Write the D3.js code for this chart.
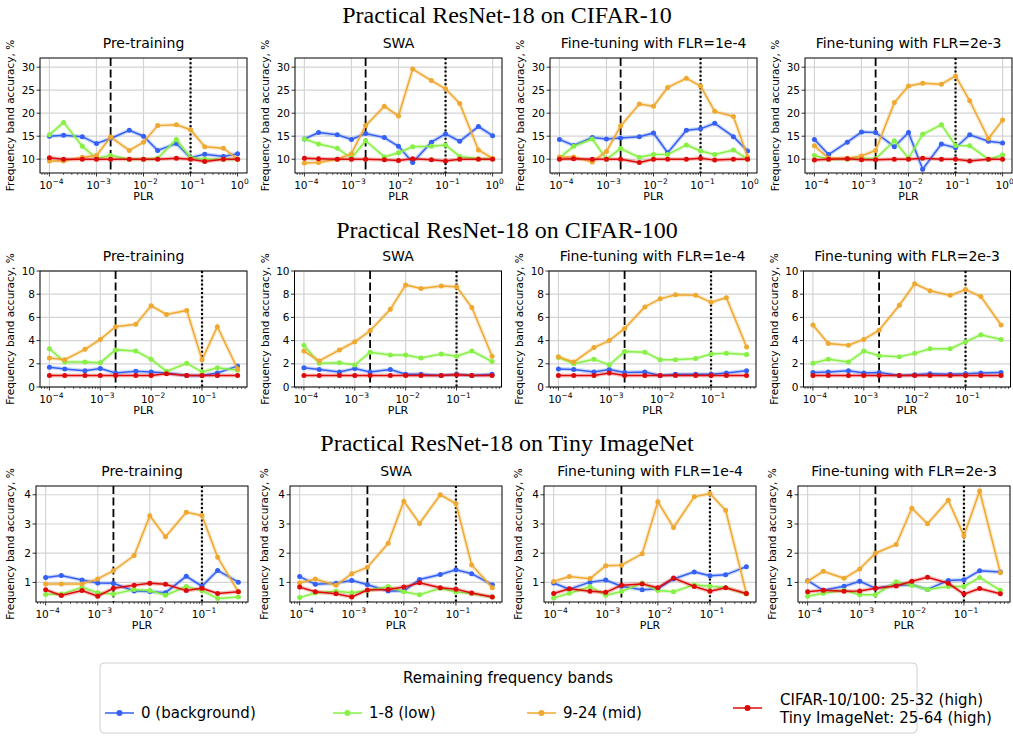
<!DOCTYPE html>
<html>
<head>
<meta charset="utf-8">
<script src="https://cdn.jsdelivr.net/npm/d3@7"></script>
<style>
  body { margin: 0; background: #fff; }
  text { font-family: "DejaVu Sans", sans-serif; fill: #000; }
</style>
</head>
<body>
<svg id="chart" width="1013" height="738"></svg>
<script>
// ---- data ----
const xC10 = [1e-4, 2e-4, 5e-4, 1e-3, 2e-3, 5e-3, 1e-2, 2e-2, 5e-2, 1e-1, 2e-1, 5e-1, 1];
const xC100 = [1e-4, 2e-4, 5e-4, 1e-3, 2e-3, 5e-3, 1e-2, 2e-2, 5e-2, 1e-1, 2e-1, 5e-1];
const xTiny = [1e-4, 2e-4, 5e-4, 1e-3, 2e-3, 5e-3, 1e-2, 2e-2, 5e-2, 1e-1, 2e-1, 5e-1];

const rowTitles = ["Practical ResNet-18 on CIFAR-10", "Practical ResNet-18 on CIFAR-100", "Practical ResNet-18 on Tiny ImageNet"];
const panelTitles = ["Pre-training", "SWA", "Fine-tuning with FLR=1e-4", "Fine-tuning with FLR=2e-3"];
const seriesNames = ["0 (background)", "1-8 (low)", "9-24 (mid)", "CIFAR-10/100: 25-32 (high)|Tiny ImageNet: 25-64 (high)"];
const seriesColors = ["#3460f4", "#86f045", "#efa930", "#dd0a0a"];

const yTicksC10 = [10, 15, 20, 25, 30];
const yTicksC100 = [0, 2, 4, 6, 8, 10];
const yTicksTiny = [1, 2, 3, 4];

// each panel: [background, low, mid, high]
const c10Pre = [
  [15.0, 15.2, 14.9, 13.4, 14.5, 16.3, 15.0, 11.9, 13.4, 10.3, 11.1, 10.6, 11.2],
  [15.3, 18.0, 12.8, 10.2, 10.8, 10.0, 10.0, 10.2, 14.3, 10.3, 10.0, 10.0, 10.0],
  [9.6, 9.6, 10.4, 10.8, 14.8, 11.9, 13.7, 17.3, 17.5, 16.4, 12.7, 12.4, 10.0],
  [10.3, 10.0, 10.0, 10.0, 10.0, 10.0, 10.0, 10.0, 10.2, 10.0, 9.5, 10.0, 10.0]
];
const c10Swa = [
  [14.4, 15.8, 15.3, 14.3, 15.6, 14.7, 12.8, 9.3, 13.7, 15.5, 13.9, 17.1, 15.1],
  [14.4, 13.3, 12.4, 10.2, 14.0, 10.5, 11.4, 12.7, 12.8, 13.1, 10.6, 10.1, 10.1],
  [9.2, 9.3, 10.0, 11.2, 17.3, 21.5, 19.4, 29.6, 27.1, 25.3, 22.1, 12.0, 10.2],
  [10.2, 10.1, 10.0, 10.0, 10.0, 9.9, 9.7, 10.1, 9.9, 9.6, 10.0, 10.0, 10.0]
];
const c10Ft1 = [
  [14.3, 13.0, 14.7, 14.4, 14.6, 14.9, 15.7, 11.4, 16.3, 16.6, 17.8, 14.9, 11.8],
  [10.3, 12.8, 14.4, 10.0, 12.3, 10.4, 11.0, 11.0, 13.1, 11.8, 11.0, 12.0, 10.0],
  [10.5, 10.5, 9.4, 11.7, 17.2, 22.0, 21.5, 25.6, 27.6, 25.9, 20.4, 19.3, 10.5],
  [10.0, 10.1, 10.0, 10.0, 10.0, 9.3, 10.0, 10.0, 10.0, 10.2, 9.8, 10.0, 10.0]
];
const c10Ft2 = [
  [14.3, 11.0, 13.7, 15.9, 15.8, 12.7, 15.8, 7.8, 13.3, 12.5, 15.3, 13.9, 13.5],
  [10.8, 10.0, 10.0, 10.2, 10.1, 14.0, 10.2, 15.4, 17.5, 13.0, 12.9, 10.0, 10.9],
  [12.9, 10.2, 10.2, 10.7, 11.9, 22.3, 25.9, 26.5, 26.3, 28.1, 22.7, 14.5, 18.5],
  [9.8, 10.0, 10.1, 9.9, 9.9, 10.0, 10.0, 10.2, 10.0, 10.0, 9.6, 10.0, 10.0]
];

const c100Pre = [
  [1.7, 1.55, 1.4, 1.6, 1.2, 1.35, 1.3, 1.2, 1.0, 1.0, 1.2, 1.8],
  [3.3, 2.15, 2.15, 2.1, 3.2, 3.1, 2.4, 1.35, 2.05, 1.3, 1.65, 1.45],
  [2.5, 2.35, 3.25, 4.1, 5.2, 5.4, 7.0, 6.25, 6.6, 2.35, 5.2, 1.55],
  [1.0, 1.0, 1.0, 1.0, 1.0, 1.0, 1.0, 1.15, 1.0, 1.0, 1.0, 1.0]
];
const c100Swa = [
  [1.65, 1.5, 1.3, 1.6, 1.3, 1.5, 1.1, 1.1, 1.0, 1.1, 1.0, 1.1],
  [3.6, 2.05, 2.1, 1.9, 3.0, 2.75, 2.75, 2.5, 2.85, 2.65, 3.1, 2.2],
  [3.1, 2.25, 3.2, 3.9, 4.85, 6.7, 8.8, 8.5, 8.7, 8.65, 6.85, 2.65],
  [1.0, 1.0, 1.0, 1.0, 1.0, 1.0, 1.0, 1.0, 1.0, 1.05, 1.0, 1.0]
];
const c100Ft1 = [
  [1.55, 1.5, 1.3, 1.5, 1.25, 1.3, 1.0, 1.1, 1.1, 1.1, 1.2, 1.4],
  [2.55, 2.0, 2.4, 1.9, 3.05, 3.0, 2.35, 2.35, 2.45, 2.85, 2.9, 2.8],
  [2.6, 2.15, 3.4, 4.0, 5.05, 6.9, 7.6, 7.95, 7.9, 7.3, 7.7, 3.45],
  [1.0, 1.0, 1.0, 1.2, 1.0, 1.0, 1.0, 1.0, 1.0, 1.0, 1.0, 1.0]
];
const c100Ft2 = [
  [1.25, 1.3, 1.4, 1.2, 1.25, 1.0, 1.05, 1.15, 1.1, 1.15, 1.2, 1.25],
  [2.05, 2.4, 2.15, 3.1, 2.7, 2.6, 2.9, 3.3, 3.3, 3.9, 4.5, 4.1],
  [5.35, 3.75, 3.6, 4.1, 4.9, 7.05, 8.9, 8.3, 7.9, 8.4, 7.8, 5.35],
  [1.0, 1.0, 1.0, 1.0, 1.0, 1.0, 1.0, 1.0, 1.0, 1.0, 1.0, 1.0]
];

const tinyPre = [
  [1.17, 1.24, 1.08, 0.98, 0.97, 0.71, 0.69, 0.65, 1.21, 0.87, 1.41, 1.01],
  [0.59, 0.6, 0.83, 0.65, 0.6, 0.76, 0.72, 0.56, 0.86, 0.72, 0.45, 0.5],
  [0.95, 0.95, 0.95, 1.12, 1.4, 1.92, 3.28, 2.56, 3.4, 3.29, 1.86, 0.68],
  [0.75, 0.55, 0.72, 0.53, 0.8, 0.9, 0.97, 0.94, 0.72, 0.8, 0.62, 0.68]
];
const tinySwa = [
  [1.2, 0.94, 0.97, 1.07, 0.92, 0.71, 0.71, 1.1, 1.27, 1.43, 1.3, 0.92],
  [0.48, 0.64, 0.7, 0.65, 0.72, 0.86, 0.68, 0.58, 0.8, 0.67, 0.62, 0.5],
  [0.98, 1.12, 0.9, 1.3, 1.52, 2.34, 3.78, 3.02, 4.0, 3.7, 1.6, 0.82],
  [0.84, 0.68, 0.61, 0.5, 0.74, 0.76, 0.84, 0.99, 0.82, 0.77, 0.64, 0.5]
];
const tinyFt1 = [
  [0.98, 0.77, 1.01, 1.08, 0.87, 0.75, 0.78, 1.12, 1.36, 1.23, 1.26, 1.54],
  [0.47, 0.63, 0.85, 0.56, 0.69, 0.98, 0.72, 0.68, 0.92, 0.87, 0.83, 0.6],
  [1.03, 1.2, 1.13, 1.57, 1.59, 1.98, 3.76, 2.88, 3.93, 4.04, 3.47, 0.62],
  [0.62, 0.78, 0.7, 0.66, 0.9, 0.95, 0.82, 1.15, 0.86, 0.7, 0.82, 0.62]
];
const tinyFt2 = [
  [1.06, 0.73, 0.87, 1.04, 0.8, 0.9, 0.92, 0.76, 1.07, 1.09, 1.4, 1.36],
  [0.53, 0.63, 0.73, 0.58, 0.58, 1.02, 0.9, 0.76, 0.86, 0.86, 1.17, 0.73],
  [1.04, 1.38, 1.14, 1.46, 2.0, 2.3, 3.54, 3.01, 3.81, 2.6, 4.13, 1.33],
  [0.68, 0.73, 0.7, 0.71, 0.8, 0.88, 1.04, 1.18, 0.97, 0.6, 0.79, 0.61]
];

// reference lines on the PLR axis
const dashedPLR = 2e-3;
const dottedPLR = 1e-1;

// ---- layout ----
const rows = [
  { title: rowTitles[0], titleY: 23, top: 58, bottom: 173, left: 40, step: 255, width: 207,
    x: xC10, yDomain: [7, 32], yTicks: yTicksC10, ylabOff: 26, panels: [c10Pre, c10Swa, c10Ft1, c10Ft2] },
  { title: rowTitles[1], titleY: 238, top: 271, bottom: 387, left: 40, step: 254.5, width: 207,
    x: xC100, yDomain: [0, 10], yTicks: yTicksC100, ylabOff: 26, panels: [c100Pre, c100Swa, c100Ft1, c100Ft2] },
  { title: rowTitles[2], titleY: 451, top: 486, bottom: 602, left: 36, step: 254, width: 212,
    x: xTiny, yDomain: [0.33, 4.3], yTicks: yTicksTiny, ylabOff: 22, panels: [tinyPre, tinySwa, tinyFt1, tinyFt2] }
];

const svg = d3.select("#chart");

function supText(sel, exp) {
  sel.append("tspan").text("10");
  sel.append("tspan").attr("dy", -5).attr("font-size", 7.5).text(exp < 0 ? "\u2212" + (-exp) : String(exp));
}

rows.forEach(row => {
  // row title
  svg.append("text")
    .attr("x", 507).attr("y", row.titleY)
    .attr("text-anchor", "middle")
    .style("font-family", "'Liberation Serif', 'DejaVu Serif', serif")
    .attr("font-size", 24)
    .text(row.title);

  const lx0 = Math.log10(d3.min(row.x)), lx1 = Math.log10(d3.max(row.x));
  const pad = (lx1 - lx0) * 0.05;

  row.panels.forEach((panel, pi) => {
    const left = row.left + pi * row.step;
    const x = d3.scaleLog()
      .domain([Math.pow(10, lx0 - pad), Math.pow(10, lx1 + pad)])
      .range([left, left + row.width]);
    const y = d3.scaleLinear().domain(row.yDomain).range([row.bottom, row.top]);

    const g = svg.append("g");

    // grid
    const decades = d3.range(Math.ceil(lx0 - pad), Math.floor(lx1 + pad) + 1);
    g.append("g").selectAll("line").data(decades).join("line")
      .attr("x1", d => x(Math.pow(10, d))).attr("x2", d => x(Math.pow(10, d)))
      .attr("y1", row.top).attr("y2", row.bottom)
      .attr("stroke", "#d4d4d4").attr("stroke-width", 1.2);
    g.append("g").selectAll("line").data(row.yTicks).join("line")
      .attr("x1", left).attr("x2", left + row.width)
      .attr("y1", d => y(d)).attr("y2", d => y(d))
      .attr("stroke", "#d4d4d4").attr("stroke-width", 1.2);

    // vertical reference lines
    g.append("line")
      .attr("x1", x(dashedPLR)).attr("x2", x(dashedPLR))
      .attr("y1", row.top).attr("y2", row.bottom)
      .attr("stroke", "#000").attr("stroke-width", 1.8)
      .attr("stroke-dasharray", "8,3.5");
    g.append("line")
      .attr("x1", x(dottedPLR)).attr("x2", x(dottedPLR))
      .attr("y1", row.top).attr("y2", row.bottom)
      .attr("stroke", "#000").attr("stroke-width", 2.2)
      .attr("stroke-dasharray", "2,2.2");

    // series
    const line = d3.line().x((d, i) => x(row.x[i])).y(d => y(d));
    panel.forEach((vals, si) => {
      const col = seriesColors[si];
      g.append("path").attr("d", line(vals))
        .attr("fill", "none").attr("stroke", col)
        .attr("stroke-width", 4).attr("stroke-opacity", 0.25);
      g.append("path").attr("d", line(vals))
        .attr("fill", "none").attr("stroke", col).attr("stroke-width", 1.5);
      g.append("g").selectAll("circle").data(vals).join("circle")
        .attr("cx", (d, i) => x(row.x[i])).attr("cy", d => y(d))
        .attr("r", 2.5).attr("fill", col);
    });

    // frame
    g.append("rect")
      .attr("x", left).attr("y", row.top)
      .attr("width", row.width).attr("height", row.bottom - row.top)
      .attr("fill", "none").attr("stroke", "#000").attr("stroke-width", 1);

    // x ticks (major + minor)
    const minor = [];
    decades.concat([decades[0] - 1]).forEach(d => {
      for (let k = 2; k <= 9; k++) {
        const v = k * Math.pow(10, d);
        if (v >= x.domain()[0] && v <= x.domain()[1]) minor.push(v);
      }
    });
    g.append("g").selectAll("line").data(minor).join("line")
      .attr("x1", d => x(d)).attr("x2", d => x(d))
      .attr("y1", row.bottom).attr("y2", row.bottom + 2)
      .attr("stroke", "#000").attr("stroke-width", 0.6);
    g.append("g").selectAll("line").data(decades).join("line")
      .attr("x1", d => x(Math.pow(10, d))).attr("x2", d => x(Math.pow(10, d)))
      .attr("y1", row.bottom).attr("y2", row.bottom + 3.5)
      .attr("stroke", "#000").attr("stroke-width", 0.8);
    decades.forEach(d => {
      const t = g.append("text")
        .attr("x", x(Math.pow(10, d)) + 2).attr("y", row.bottom + 16)
        .attr("text-anchor", "middle").attr("font-size", 10.5);
      supText(t, d);
    });

    // y ticks
    g.append("g").selectAll("line").data(row.yTicks).join("line")
      .attr("x1", left - 3.5).attr("x2", left)
      .attr("y1", d => y(d)).attr("y2", d => y(d))
      .attr("stroke", "#000").attr("stroke-width", 0.8);
    g.append("g").selectAll("text").data(row.yTicks).join("text")
      .attr("x", left - 5).attr("y", d => y(d)).attr("dy", "0.35em")
      .attr("text-anchor", "end").attr("font-size", 10.5)
      .text(d => d);

    // labels
    g.append("text")
      .attr("x", left + row.width / 2).attr("y", row.bottom + 27)
      .attr("text-anchor", "middle").attr("font-size", 11).text("PLR");
    g.append("text")
      .attr("transform", `translate(${left - row.ylabOff},${(row.top + row.bottom) / 2}) rotate(-90)`)
      .attr("text-anchor", "middle").attr("font-size", 10.5)
      .text("Frequency band accuracy, %");
    g.append("text")
      .attr("x", left + row.width / 2).attr("y", row.top - 10)
      .attr("text-anchor", "middle").attr("font-size", 14)
      .text(panelTitles[pi]);
  });
});

// ---- legend ----
const legend = svg.append("g");
legend.append("rect")
  .attr("x", 100).attr("y", 663).attr("width", 817).attr("height", 70).attr("rx", 4)
  .attr("fill", "#fff").attr("stroke", "#d0d0d0").attr("stroke-width", 1);
legend.append("text")
  .attr("x", 508).attr("y", 683).attr("text-anchor", "middle").attr("font-size", 15)
  .text("Remaining frequency bands");

const legendX = [105, 333, 527, 733];
seriesNames.forEach((name, i) => {
  const lx = legendX[i];
  const ly = i === 3 ? 708 : 713;
  legend.append("line")
    .attr("x1", lx).attr("x2", lx + 29).attr("y1", ly).attr("y2", ly)
    .attr("stroke", seriesColors[i]).attr("stroke-width", 1.5);
  legend.append("circle").attr("cx", lx + 14.5).attr("cy", ly).attr("r", 3).attr("fill", seriesColors[i]);
  const parts = name.split("|");
  parts.forEach((p, k) => {
    legend.append("text")
      .attr("x", i === 3 ? lx + 47 : lx + 36)
      .attr("y", parts.length > 1 ? 705 + k * 18 : 718)
      .attr("font-size", 15)
      .text(p);
  });
});
</script>
</body>
</html>
